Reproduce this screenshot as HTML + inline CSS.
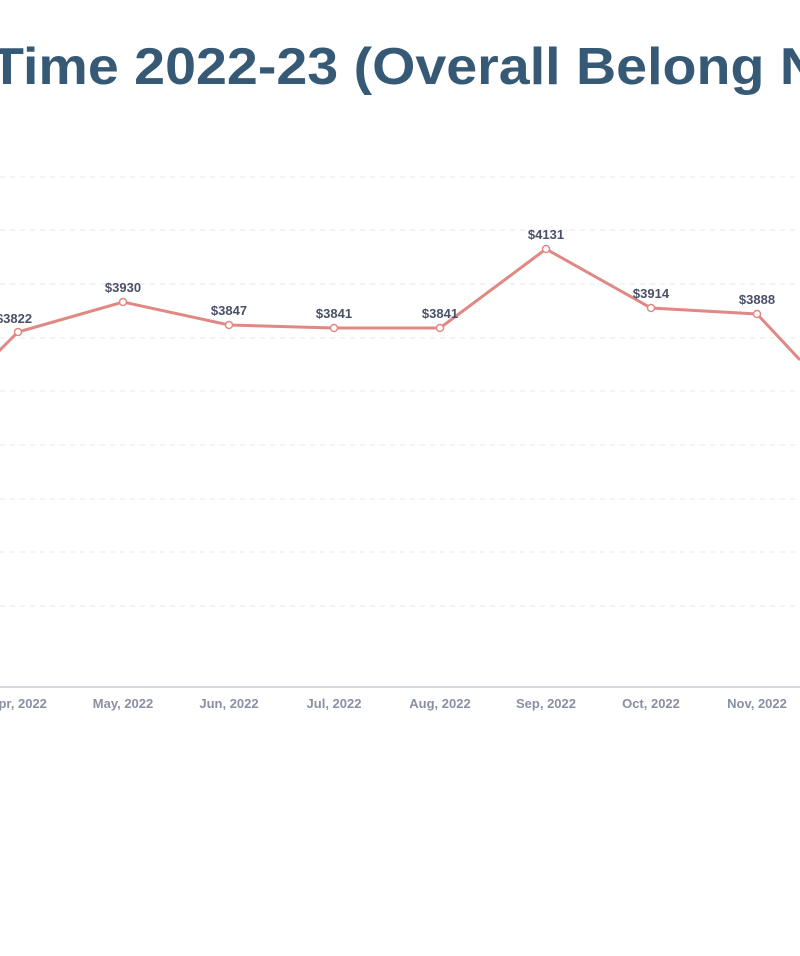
<!DOCTYPE html>
<html><head><meta charset="utf-8"><style>
html,body{margin:0;padding:0;background:#fff;width:800px;height:956px;overflow:hidden}
</style></head><body>
<svg width="800" height="956" xmlns="http://www.w3.org/2000/svg" font-family="Liberation Sans, sans-serif">
<text x="-10" y="84" font-size="52" font-weight="bold" fill="#365a75" textLength="830" lengthAdjust="spacingAndGlyphs">Time 2022-23 (Overall Belong N</text>
<g stroke="#e6e8ee" stroke-width="1" stroke-dasharray="5,5">
<line x1="0" x2="800" y1="177" y2="177"/><line x1="0" x2="800" y1="230" y2="230"/>
<line x1="0" x2="800" y1="284" y2="284"/><line x1="0" x2="800" y1="338" y2="338"/>
<line x1="0" x2="800" y1="391" y2="391"/><line x1="0" x2="800" y1="445" y2="445"/>
<line x1="0" x2="800" y1="499" y2="499"/><line x1="0" x2="800" y1="552" y2="552"/>
<line x1="0" x2="800" y1="606" y2="606"/>
</g>
<line x1="0" x2="800" y1="687" y2="687" stroke="#c8cbd4" stroke-width="1.5"/>
<polyline fill="none" stroke="#e08884" stroke-width="3" points="-5,355 18,332 123,302 229,325 334,328 440,328 546,249 651,308 757,314 800,360"/>
<g fill="#fff" stroke="#e08884" stroke-width="1.5">
<circle cx="18" cy="332" r="3.5"/><circle cx="123" cy="302" r="3.5"/><circle cx="229" cy="325" r="3.5"/>
<circle cx="334" cy="328" r="3.5"/><circle cx="440" cy="328" r="3.5"/><circle cx="546" cy="249" r="3.5"/>
<circle cx="651" cy="308" r="3.5"/><circle cx="757" cy="314" r="3.5"/>
</g>
<g font-size="13" font-weight="bold" fill="#4a5068" text-anchor="middle">
<text x="14" y="323">$3822</text><text x="123" y="292">$3930</text><text x="229" y="315">$3847</text>
<text x="334" y="318">$3841</text><text x="440" y="318">$3841</text><text x="546" y="239">$4131</text>
<text x="651" y="298">$3914</text><text x="757" y="304">$3888</text>
</g>
<g font-size="13" font-weight="bold" fill="#8a90a4" text-anchor="middle">
<text x="18" y="708">Apr, 2022</text><text x="123" y="708">May, 2022</text><text x="229" y="708">Jun, 2022</text>
<text x="334" y="708">Jul, 2022</text><text x="440" y="708">Aug, 2022</text><text x="546" y="708">Sep, 2022</text>
<text x="651" y="708">Oct, 2022</text><text x="757" y="708">Nov, 2022</text>
</g>
<clipPath id="c"><rect x="0" y="0" width="800" height="731"/></clipPath>
<text x="440" y="742" font-size="14" font-weight="bold" fill="#8a90a4" text-anchor="middle" clip-path="url(#c)">Month</text>
</svg>
</body></html>
